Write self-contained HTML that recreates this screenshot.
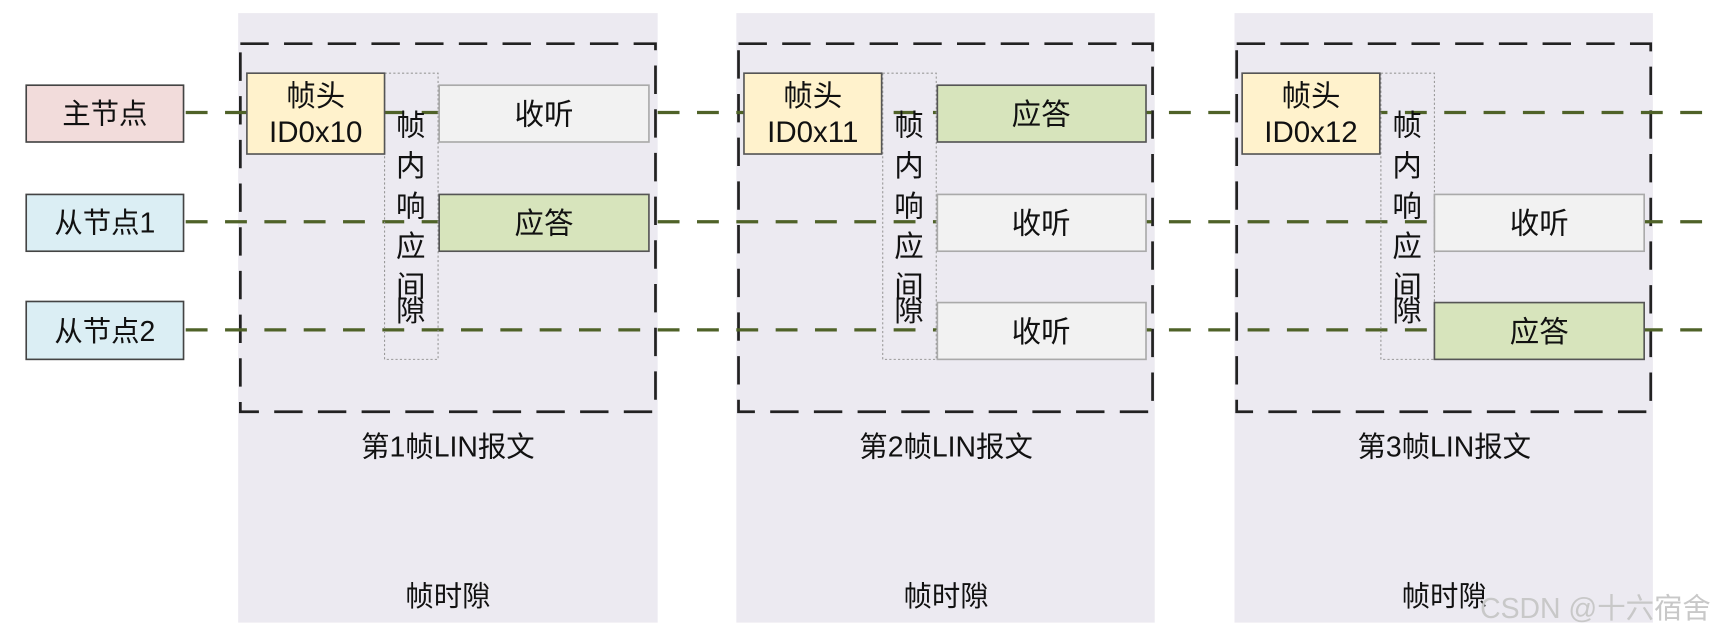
<!DOCTYPE html>
<html><head><meta charset="utf-8"><style>
html,body{margin:0;padding:0;background:#fff;}
svg{display:block;}
text{font-family:"Liberation Sans","Noto Sans CJK SC",sans-serif;fill:#111;}
</style></head><body>
<svg width="1713" height="639" viewBox="0 0 1568 585" preserveAspectRatio="none" xmlns="http://www.w3.org/2000/svg">
<rect width="1568" height="585" fill="#fff"/>
<rect x="218" y="12" width="384" height="558" fill="#ECEAF1"/>
<rect x="674" y="12" width="383" height="558" fill="#ECEAF1"/>
<rect x="1130" y="12" width="383" height="558" fill="#ECEAF1"/>
<g fill="none" stroke="#222" stroke-width="2.5" stroke-dasharray="26,14">
<rect x="220" y="40" width="380" height="337"/>
<rect x="676" y="40" width="379" height="337"/>
<rect x="1132" y="40" width="379" height="337"/>
</g>
<g stroke="#4F6228" stroke-width="3" stroke-dasharray="20,16">
<line x1="170" y1="103" x2="1568" y2="103"/>
<line x1="170" y1="203" x2="1568" y2="203"/>
<line x1="170" y1="302" x2="1568" y2="302"/>
</g>
<g stroke="#444" stroke-width="1.5">
<rect x="24" y="78" width="144" height="52" fill="#F2DCDB"/>
<rect x="24" y="178" width="144" height="52" fill="#DBEEF4"/>
<rect x="24" y="276" width="144" height="53" fill="#DBEEF4"/>
</g>
<g font-size="26" text-anchor="middle">
<text x="96" y="113">主节点</text>
<text x="96" y="213">从节点1</text>
<text x="96" y="312">从节点2</text>
</g>
<g font-size="27" text-anchor="middle">
<rect x="352" y="67" width="49" height="262" fill="none" stroke="#999" stroke-width="1" stroke-dasharray="2,2"/>
<rect x="226" y="67" width="126" height="74" fill="#FFF2CC" stroke="#555" stroke-width="1.5"/>
<text x="289" y="97">帧头</text>
<text x="289" y="130">ID0x10</text>
<text x="376" y="124">帧</text><text x="376" y="161">内</text><text x="376" y="198">响</text><text x="376" y="235">应</text><text x="376" y="272">间</text><text x="376" y="294">隙</text>
<rect x="402" y="78" width="192" height="52" fill="#F2F2F2" stroke="#aaa" stroke-width="1.5"/>
<text x="498" y="114">收听</text>
<rect x="402" y="178" width="192" height="52" fill="#D7E4BC" stroke="#555" stroke-width="1.5"/>
<text x="498" y="214">应答</text>
<text x="410" y="418" font-size="26">第1帧LIN报文</text>
<text x="410" y="555" font-size="26">帧时隙</text>
</g>
<g font-size="27" text-anchor="middle">
<rect x="808" y="67" width="49" height="262" fill="none" stroke="#999" stroke-width="1" stroke-dasharray="2,2"/>
<rect x="681" y="67" width="126" height="74" fill="#FFF2CC" stroke="#555" stroke-width="1.5"/>
<text x="744" y="97">帧头</text>
<text x="744" y="130">ID0x11</text>
<text x="832" y="124">帧</text><text x="832" y="161">内</text><text x="832" y="198">响</text><text x="832" y="235">应</text><text x="832" y="272">间</text><text x="832" y="294">隙</text>
<rect x="858" y="78" width="191" height="52" fill="#D7E4BC" stroke="#555" stroke-width="1.5"/>
<text x="953" y="114">应答</text>
<rect x="858" y="178" width="191" height="52" fill="#F2F2F2" stroke="#aaa" stroke-width="1.5"/>
<text x="953" y="214">收听</text>
<rect x="858" y="277" width="191" height="52" fill="#F2F2F2" stroke="#aaa" stroke-width="1.5"/>
<text x="953" y="313">收听</text>
<text x="866" y="418" font-size="26">第2帧LIN报文</text>
<text x="866" y="555" font-size="26">帧时隙</text>
</g>
<g font-size="27" text-anchor="middle">
<rect x="1264" y="67" width="49" height="262" fill="none" stroke="#999" stroke-width="1" stroke-dasharray="2,2"/>
<rect x="1137" y="67" width="126" height="74" fill="#FFF2CC" stroke="#555" stroke-width="1.5"/>
<text x="1200" y="97">帧头</text>
<text x="1200" y="130">ID0x12</text>
<text x="1288" y="124">帧</text><text x="1288" y="161">内</text><text x="1288" y="198">响</text><text x="1288" y="235">应</text><text x="1288" y="272">间</text><text x="1288" y="294">隙</text>
<rect x="1313" y="178" width="192" height="52" fill="#F2F2F2" stroke="#aaa" stroke-width="1.5"/>
<text x="1409" y="214">收听</text>
<rect x="1313" y="277" width="192" height="52" fill="#D7E4BC" stroke="#555" stroke-width="1.5"/>
<text x="1409" y="313">应答</text>
<text x="1322" y="418" font-size="26">第3帧LIN报文</text>
<text x="1322" y="555" font-size="26">帧时隙</text>
</g>
<text x="1566" y="566" font-size="26" text-anchor="end" style="fill:#c8c8c8">CSDN @十六宿舍</text>
</svg>
</body></html>
